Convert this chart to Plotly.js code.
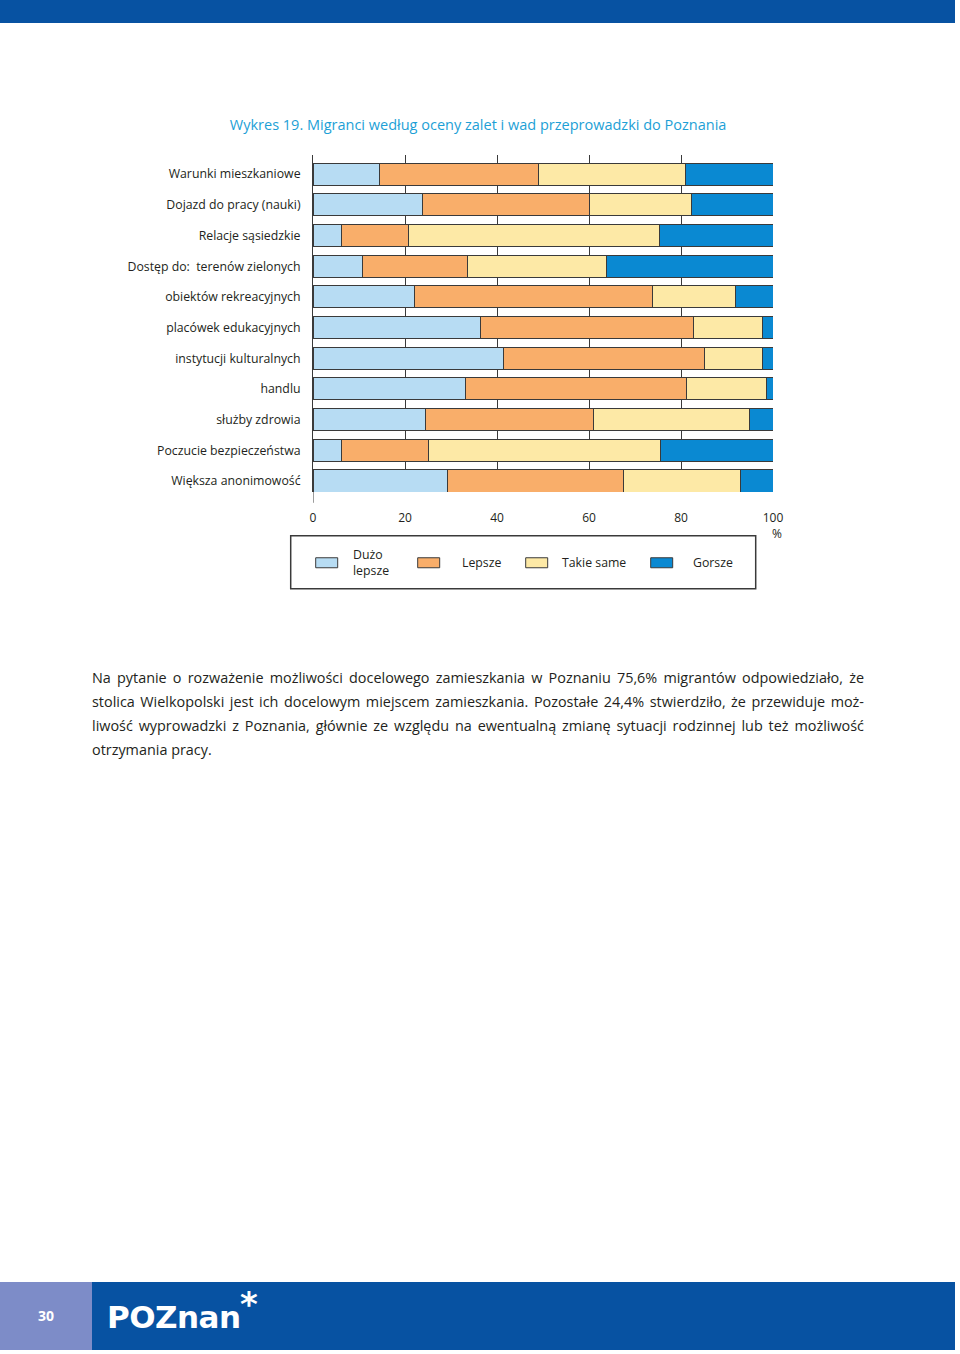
<!DOCTYPE html>
<html>
<head>
<meta charset="utf-8">
<script src="https://cdn.plot.ly/plotly-3.0.1.min.js"></script>
<style>
  html, body { margin: 0; padding: 0; background: #fff; }
  #page { position: relative; width: 960px; height: 1354px; overflow: hidden; font-family: "Open Sans", "Noto Sans", sans-serif; }
  #chart { position: absolute; left: 0; top: 0; width: 960px; height: 1354px; }
  #topband { position: absolute; left: 0; top: 0; width: 955px; height: 23px; background: #0752a2; }
  #para { position: absolute; left: 92px; top: 666px; width: 772px; font-size: 14.4px; line-height: 24px; color: #231f20; }
  #para div { text-align: justify; text-align-last: justify; white-space: nowrap; }
  #para div.last { text-align-last: left; }
  #botleft { position: absolute; left: 0; top: 1282px; width: 92px; height: 68px; background: #7d8cc8; color: #fff; font-weight: bold; font-size: 14px; text-align: center; line-height: 68px; }
  #botright { position: absolute; left: 92px; top: 1282px; width: 863px; height: 68px; background: #0752a2; }
  #logo { position: absolute; left: 107px; top: 1301px; color: #fff; font-family: "DejaVu Sans", sans-serif; font-weight: bold; font-size: 31px; letter-spacing: -0.5px; line-height: 32px; white-space: nowrap; }
  #star { position: absolute; left: 240px; top: 1294px; color: #fff; font-family: "DejaVu Sans", sans-serif; font-weight: bold; font-size: 34px; line-height: 20px; }
</style>
</head>
<body>
<div id="page">
  <div id="topband"></div>
  <div id="chart"></div>
  <div id="para">
    <div>Na pytanie o rozważenie możliwości docelowego zamieszkania w Poznaniu 75,6% migrantów odpowiedziało, że</div>
    <div>stolica Wielkopolski jest ich docelowym miejscem zamieszkania. Pozostałe 24,4% stwierdziło, że przewiduje moż-</div>
    <div>liwość wyprowadzki z Poznania, głównie ze względu na ewentualną zmianę sytuacji rodzinnej lub też możliwość</div>
    <div class="last">otrzymania pracy.</div>
  </div>
  <div id="botleft">30</div>
  <div id="botright"></div>
  <div id="logo">POZnan</div>
  <div id="star">*</div>
</div>
<script>
// Categories (top to bottom)
const categories = [
  "Warunki mieszkaniowe",
  "Dojazd do pracy (nauki)",
  "Relacje sąsiedzkie",
  "Dostęp do:  terenów zielonych",
  "obiektów rekreacyjnych",
  "placówek edukacyjnych",
  "instytucji kulturalnych",
  "handlu",
  "służby zdrowia",
  "Poczucie bezpieczeństwa",
  "Większa anonimowość"
];

const seriesNames = ["Dużo<br>lepsze", "Lepsze", "Takie same", "Gorsze"];

const duzoLepsze = [14.5, 23.9, 6.2, 10.7, 22.0, 36.5, 41.4, 33.2, 24.4, 6.1, 29.2];
const lepsze     = [34.6, 36.1, 14.5, 22.9, 51.9, 46.3, 43.8, 48.0, 36.5, 18.9, 38.2];
const takieSame  = [31.9, 22.2, 54.7, 30.2, 18.0, 15.0, 12.6, 17.4, 34.0, 50.6, 25.6];
const gorsze     = [19.0, 17.8, 24.6, 36.2, 8.1, 2.2, 2.2, 1.4, 5.1, 24.4, 7.0];

const xTickVals = [0, 20, 40, 60, 80, 100];
const xTickText = ["0", "20", "40", "60", "80", "100"];

const seriesValues = [duzoLepsze, lepsze, takieSame, gorsze];
const seriesColors = ["#b7dcf3", "#f9ae6a", "#fde9a6", "#0a89d2"];

const traces = seriesValues.map((vals, i) => ({
  type: "bar",
  orientation: "h",
  name: seriesNames[i].replace("<br>", " "),
  x: vals,
  y: categories,
  marker: { color: seriesColors[i], line: { color: "#3a3a3a", width: 1 } },
  hoverinfo: "x+y+name"
}));

// --- layout geometry (page pixels) ---
const PL = 313.3, PR = 773.3, PT = 155, PB = 492.2;
const px2x = px => (px - PL) / (PR - PL);      // paper x
const px2y = py => (PB - py) / (PB - PT);      // paper y

// legend drawn as a framed key
const legendSwatchX = [316, 418, 526, 651];
const legendTextX   = [351, 460, 560, 691];
const legendShapes = [
  { type: "rect", xref: "paper", yref: "paper",
    x0: px2x(291), x1: px2x(756), y0: px2y(589), y1: px2y(536),
    line: { color: "#3a3a3a", width: 1.5 }, fillcolor: "rgba(0,0,0,0)" }
].concat(seriesColors.map((c, i) => ({
  type: "rect", xref: "paper", yref: "paper",
  x0: px2x(legendSwatchX[i]), x1: px2x(legendSwatchX[i] + 22),
  y0: px2y(568), y1: px2y(558),
  line: { color: "#3a3a3a", width: 1 }, fillcolor: c
})));
const legendAnns = seriesNames.map((n, i) => ({
  text: n, xref: "paper", yref: "paper",
  x: px2x(legendTextX[i]), xanchor: "left", align: "left",
  y: px2y(563), yanchor: "middle",
  showarrow: false, font: { size: 12.3, color: "#231f20" }
}));

const layout = {
  width: 960,
  height: 1354,
  paper_bgcolor: "rgba(0,0,0,0)",
  plot_bgcolor: "rgba(0,0,0,0)",
  barmode: "stack",
  bargap: 0.28,
  margin: { l: PL, r: 960 - PR, t: PT, b: 1354 - PB, pad: 0 },
  font: { family: "Open Sans, Noto Sans, sans-serif", color: "#231f20", size: 12 },
  title: {
    text: "Wykres 19. Migranci według oceny zalet i wad przeprowadzki do Poznania",
    font: { family: "Open Sans, Noto Sans, sans-serif", size: 14.5, color: "#1d9fd6" },
    xref: "container", x: 0.498, xanchor: "center",
    yref: "container", y: 1 - 125 / 1354, yanchor: "middle"
  },
  xaxis: {
    range: [0, 100],
    tickvals: xTickVals,
    ticktext: xTickText,
    showgrid: true,
    gridcolor: "#3a3a3a",
    gridwidth: 1,
    zeroline: false,
    showline: false,
    ticks: "",
    ticklabelstandoff: 17,
    tickfont: { size: 12, color: "#231f20" },
    fixedrange: true
  },
  yaxis: {
    type: "category",
    range: [10.36, -0.625],
    showgrid: false,
    zeroline: false,
    showline: true,
    linecolor: "#3a3a3a",
    linewidth: 1,
    ticks: "",
    ticklabelstandoff: 9,
    tickfont: { size: 12.3, color: "#231f20" },
    fixedrange: true
  },
  shapes: [
    { type: "line", xref: "x", x0: 0, x1: 0, yref: "paper", y0: 0, y1: -0.032,
      line: { color: "#3a3a3a", width: 1 } }
  ].concat(legendShapes),
  annotations: [
    { text: "%", xref: "x", x: 100, xshift: 4, yref: "paper", y: px2y(534), yanchor: "middle",
      showarrow: false, font: { size: 12, color: "#231f20" } }
  ].concat(legendAnns),
  showlegend: false
};

Plotly.newPlot("chart", traces, layout, { displayModeBar: false, staticPlot: true });
</script>
</body>
</html>
